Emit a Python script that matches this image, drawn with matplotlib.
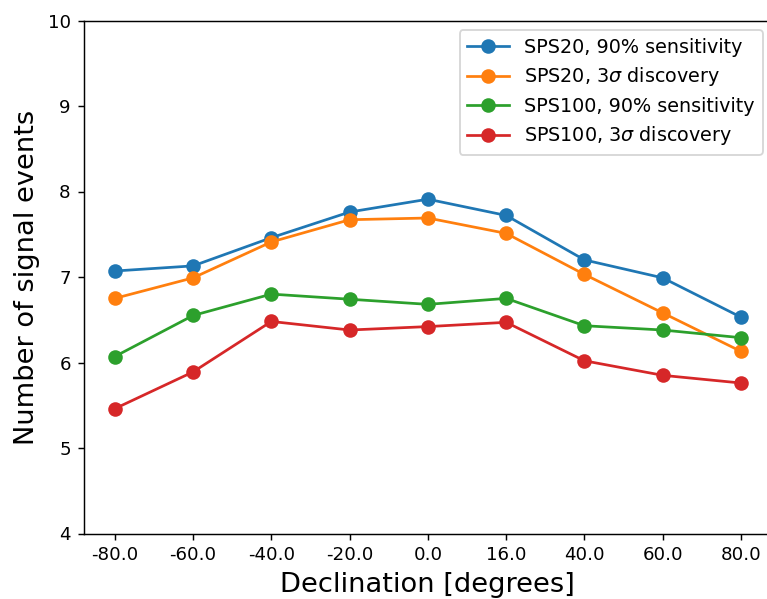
import matplotlib
matplotlib.use("Agg")
import matplotlib.pyplot as plt

# Declination bins (evenly spaced on the axis, labels as in the original)
declinations = ["-80.0", "-60.0", "-40.0", "-20.0", "0.0", "16.0", "40.0", "60.0", "80.0"]

sps20_sens = [7.07, 7.13, 7.46, 7.76, 7.91, 7.72, 7.20, 6.99, 6.53]
sps20_disc = [6.75, 6.99, 7.41, 7.67, 7.69, 7.51, 7.03, 6.58, 6.13]
sps100_sens = [6.07, 6.55, 6.80, 6.74, 6.68, 6.75, 6.43, 6.38, 6.29]
sps100_disc = [5.46, 5.89, 6.48, 6.38, 6.42, 6.47, 6.02, 5.85, 5.76]

dpi = 131
fig = plt.figure(figsize=(767 / dpi, 599 / dpi), dpi=dpi)
# right edge of the axes is cut off in the reference
ax = fig.add_axes([83.5 / 767, (599 - 533.5) / 599,
                   (772.3 - 83.5) / 767, (533.5 - 20.5) / 599])

x = range(len(declinations))
ax.plot(x, sps20_sens, "o-", color="C0", ms=7, label="SPS20, 90% sensitivity")
ax.plot(x, sps20_disc, "o-", color="C1", ms=7, label=r"SPS20, 3$\sigma$ discovery")
ax.plot(x, sps100_sens, "o-", color="C2", ms=7, label="SPS100, 90% sensitivity")
ax.plot(x, sps100_disc, "o-", color="C3", ms=7, label=r"SPS100, 3$\sigma$ discovery")

ax.set_xticks(list(x))
ax.set_xticklabels(declinations)
ax.set_xlim(-0.4, 8.4)
ax.set_ylim(4, 10)
ax.set_xlabel("Declination [degrees]", fontsize=15)
ax.set_ylabel("Number of signal events", fontsize=15)
ax.legend(loc="upper right", fontsize=10.5, labelspacing=0.45, handlelength=2.2)

fig.savefig("out.png", dpi=dpi)
